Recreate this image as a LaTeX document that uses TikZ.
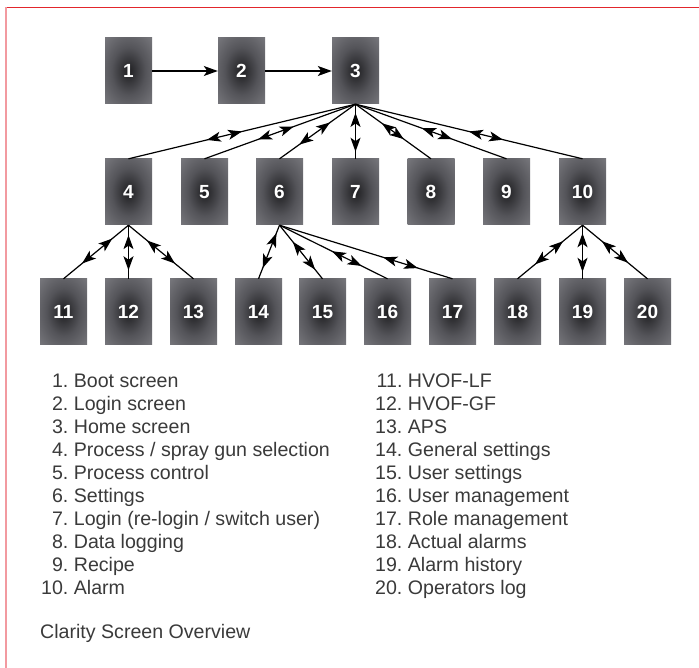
\documentclass[tikz,border=0pt]{standalone}
\usepackage{fontspec}
\setmainfont{Liberation Sans}
\usetikzlibrary{arrows.meta,decorations.markings}
\pgfdeclareradialshading{boxshade}{\pgfpoint{0bp}{0bp}}{rgb(0bp)=(0.12,0.12,0.13); rgb(18bp)=(0.33,0.33,0.35); rgb(45bp)=(0.54,0.54,0.56); rgb(72bp)=(0.60,0.60,0.62)}
\definecolor{topred}{HTML}{E2262C}
\definecolor{leftpink}{HTML}{F29AA0}
\definecolor{txt}{HTML}{3A3A3A}
\tikzset{
  box/.style={minimum width=47pt, minimum height=66pt, inner sep=0pt, shading=boxshade,
    text=white, font=\fontsize{19}{19}\selectfont\bfseries},
  tipf/.tip={Stealth[length=14pt,width=10pt,inset=3.5pt]},
  conn/.style 2 args={line width=1.2pt, postaction={decorate},
    decoration={markings,
      mark=at position #1 with {\arrowreversed{tipf}},
      mark=at position #2 with {\arrow{tipf}}}},
  flow/.style={line width=1.2pt, -{Stealth[length=14pt,width=10pt,inset=3.5pt]}},
  listtext/.style={inner sep=0pt, text=txt, font=\fontsize{19.6}{23}\selectfont},
}
\begin{document}
\begin{tikzpicture}[x=1pt,y=-1pt]
\useasboundingbox (0,0) rectangle (699,668);
% frame
\draw[topred, line width=1.5pt] (5,7.3) -- (699,7.3);
\draw[leftpink, line width=1.5pt] (5.8,7.3) -- (5.8,668);
% row 1
\node[box] (b1) at (128.5,71) {1};
\node[box] (b2) at (241.5,71) {2};
\node[box] (b3) at (355.5,71) {3};
% row 2
\node[box] (b4) at (128.5,192) {4};
\node[box] (b5) at (204.5,192) {5};
\node[box] (b6) at (279.5,192) {6};
\node[box] (b7) at (355.5,192) {7};
\node[box] (b8) at (431,192) {8};
\node[box] (b9) at (506.5,192) {9};
\node[box] (b10) at (582.5,192) {10};
% row 3
\node[box] (b11) at (63.5,312) {11};
\node[box] (b12) at (128.5,312) {12};
\node[box] (b13) at (193.5,312) {13};
\node[box] (b14) at (258.5,312) {14};
\node[box] (b15) at (322.5,312) {15};
\node[box] (b16) at (387.5,312) {16};
\node[box] (b17) at (452.5,312) {17};
\node[box] (b18) at (517.5,312) {18};
\node[box] (b19) at (582.5,312) {19};
\node[box] (b20) at (647.5,312) {20};
% flow
\draw[flow] (b1) -- (b2);
\draw[flow] (b2) -- (b3);
% from 3
\draw[conn={0.50}{0.655}] (b3.south) -- (b4.north);
\draw[conn={0.41}{0.645}] (b3.south) -- (b5.north);
\draw[conn={0.335}{0.74}] (b3.south) -- (b6.north);
\draw[conn={0.16}{0.87}] (b3.south) -- (b7.north);
\draw[conn={0.35}{0.64}] (b3.south) -- (b8.north);
\draw[conn={0.44}{0.64}] (b3.south) -- (b9.north);
\draw[conn={0.50}{0.65}] (b3.south) -- (b10.north);
% from 4
\draw[conn={0.25}{0.715}] (b4.south) -- (b11.north);
\draw[conn={0.185}{0.84}] (b4.south) -- (b12.north);
\draw[conn={0.285}{0.715}] (b4.south) -- (b13.north);
% from 6
\draw[conn={0.15}{0.80}] (b6.south) -- (b14.north);
\draw[conn={0.31}{0.83}] (b6.south) -- (b15.north);
\draw[conn={0.486}{0.76}] (b6.south) -- (b16.north);
\draw[conn={0.60}{0.80}] (b6.south) -- (b17.north);
% from 10
\draw[conn={0.30}{0.73}] (b10.south) -- (b18.north);
\draw[conn={0.15}{0.87}] (b10.south) -- (b19.north);
\draw[conn={0.30}{0.70}] (b10.south) -- (b20.north);
% legend
\node[listtext, anchor=base west] (listL) at (41,388) {\begin{tabular}[t]{@{}r@{\ }l@{}}
1.&Boot screen\\
2.&Login screen\\
3.&Home screen\\
4.&Process / spray gun selection\\
5.&Process control\\
6.&Settings\\
7.&Login (re-login / switch user)\\
8.&Data logging\\
9.&Recipe\\
10.&Alarm
\end{tabular}};
\node[listtext, anchor=base west] (listR) at (375,388) {\begin{tabular}[t]{@{}r@{\ }l@{}}
11.&HVOF-LF\\
12.&HVOF-GF\\
13.&APS\\
14.&General settings\\
15.&User settings\\
16.&User management\\
17.&Role management\\
18.&Actual alarms\\
19.&Alarm history\\
20.&Operators log
\end{tabular}};
\node[listtext, anchor=base west] (caption) at (40,638) {Clarity Screen Overview};
\end{tikzpicture}
\end{document}
